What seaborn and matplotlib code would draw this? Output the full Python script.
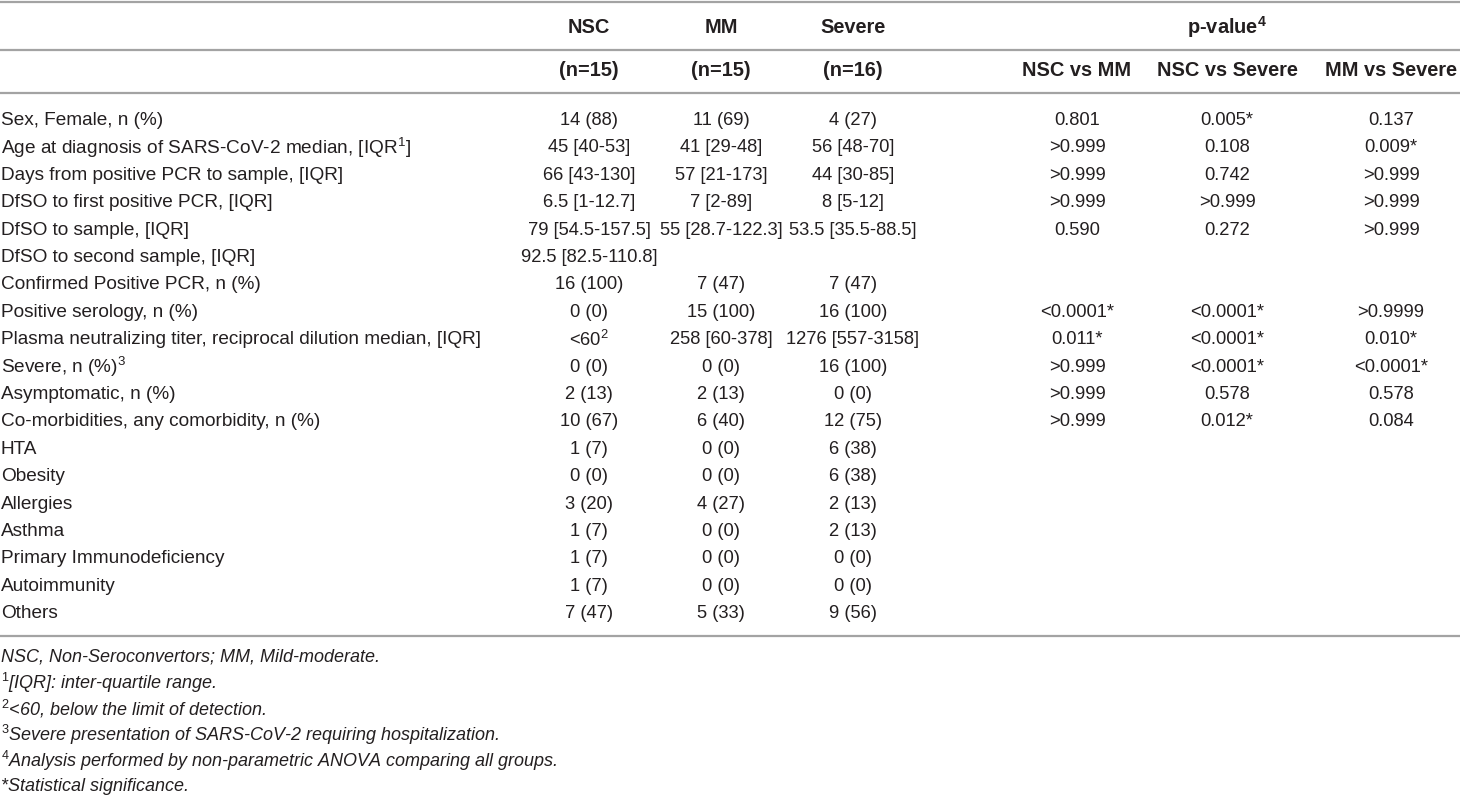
import matplotlib
matplotlib.use("Agg")
import matplotlib.pyplot as plt
import seaborn as sns

sns.set_theme(style="white")
FAM = ["Liberation Sans", "DejaVu Sans"]
plt.rcParams["font.family"] = FAM
plt.rcParams["mathtext.fontset"] = "custom"
plt.rcParams["mathtext.rm"] = "Liberation Sans"
plt.rcParams["mathtext.it"] = "Liberation Sans:italic"
plt.rcParams["mathtext.bf"] = "Liberation Sans:bold"
plt.rcParams["mathtext.default"] = "rm"

# ---------------- data ----------------
group_headers = ["NSC", "MM", "Severe"]
group_n = ["(n=15)", "(n=15)", "(n=16)"]
pvalue_header = "p-value$^{\\mathbf{4}}$"
pvalue_cols = ["NSC vs MM", "NSC vs Severe", "MM vs Severe"]

row_labels = [
    "Sex, Female, n (%)",
    "Age at diagnosis of SARS-CoV-2 median, [IQR$^1$]",
    "Days from positive PCR to sample, [IQR]",
    "DfSO to first positive PCR, [IQR]",
    "DfSO to sample, [IQR]",
    "DfSO to second sample, [IQR]",
    "Confirmed Positive PCR, n (%)",
    "Positive serology, n (%)",
    "Plasma neutralizing titer, reciprocal dilution median, [IQR]",
    "Severe, n (%)$^3$",
    "Asymptomatic, n (%)",
    "Co-morbidities, any comorbidity, n (%)",
    "HTA",
    "Obesity",
    "Allergies",
    "Asthma",
    "Primary Immunodeficiency",
    "Autoimmunity",
    "Others",
]

nsc_values = ["14 (88)", "45 [40-53]", "66 [43-130]", "6.5 [1-12.7]", "79 [54.5-157.5]",
              "92.5 [82.5-110.8]", "16 (100)", "0 (0)", "<60$^2$", "0 (0)", "2 (13)",
              "10 (67)", "1 (7)", "0 (0)", "3 (20)", "1 (7)", "1 (7)", "1 (7)", "7 (47)"]
mm_values = ["11 (69)", "41 [29-48]", "57 [21-173]", "7 [2-89]", "55 [28.7-122.3]",
             "", "7 (47)", "15 (100)", "258 [60-378]", "0 (0)", "2 (13)",
             "6 (40)", "0 (0)", "0 (0)", "4 (27)", "0 (0)", "0 (0)", "0 (0)", "5 (33)"]
severe_values = ["4 (27)", "56 [48-70]", "44 [30-85]", "8 [5-12]", "53.5 [35.5-88.5]",
                 "", "7 (47)", "16 (100)", "1276 [557-3158]", "16 (100)", "0 (0)",
                 "12 (75)", "6 (38)", "6 (38)", "2 (13)", "2 (13)", "0 (0)", "0 (0)", "9 (56)"]
p_nsc_mm = ["0.801", ">0.999", ">0.999", ">0.999", "0.590", "", "", "<0.0001*", "0.011*",
            ">0.999", ">0.999", ">0.999", "", "", "", "", "", "", ""]
p_nsc_severe = ["0.005*", "0.108", "0.742", ">0.999", "0.272", "", "", "<0.0001*", "<0.0001*",
                "<0.0001*", "0.578", "0.012*", "", "", "", "", "", "", ""]
p_mm_severe = ["0.137", "0.009*", ">0.999", ">0.999", ">0.999", "", "", ">0.9999", "0.010*",
               "<0.0001*", "0.578", "0.084", "", "", "", "", "", "", ""]

footnotes = [
    "NSC, Non-Seroconvertors; MM, Mild-moderate.",
    "$^{\\mathit{1}}$[IQR]: inter-quartile range.",
    "$^{\\mathit{2}}$<60, below the limit of detection.",
    "$^{\\mathit{3}}$Severe presentation of SARS-CoV-2 requiring hospitalization.",
    "$^{\\mathit{4}}$Analysis performed by non-parametric ANOVA comparing all groups.",
    "*Statistical significance.",
]

# ---------------- layout ----------------
W, H = 1460, 797
fig = plt.figure(figsize=(W / 100, H / 100), dpi=100)
ax = fig.add_axes([0, 0, 1, 1])
ax.set_xlim(0, W)
ax.set_ylim(H, 0)
ax.axis("off")

TXT = "#231f20"
LINE = "#a3a3a3"
FS = 13.7    # row labels
FSV = 13.2   # cell values
FSB = 14.4   # bold headers
FSF = 13.0   # footnotes

col_x = [589, 721, 853, 1077, 1227, 1391]
row_y0, row_dy = 120.5, 27.4

for y in [1.5, 50, 92.5, 636]:
    ax.plot([0, W], [y, y], color=LINE, lw=1.6, solid_capstyle="butt")

for x, h in zip(col_x[:3], group_headers):
    ax.text(x, 27, h, ha="center", va="center", fontsize=FSB, fontweight="bold", color=TXT)
ax.text(col_x[4], 27, pvalue_header, ha="center", va="center", fontsize=FSB,
        fontweight="bold", color=TXT)
for x, h in zip(col_x[:3], group_n):
    ax.text(x, 70, h, ha="center", va="center", fontsize=FSB, fontweight="bold", color=TXT)
for x, h in zip(col_x[3:], pvalue_cols):
    ax.text(x, 70, h, ha="center", va="center", fontsize=FSB, fontweight="bold", color=TXT)

columns = [nsc_values, mm_values, severe_values, p_nsc_mm, p_nsc_severe, p_mm_severe]
for i, lab in enumerate(row_labels):
    y = row_y0 + i * row_dy
    ax.text(1, y, lab, ha="left", va="center", fontsize=FS, color=TXT)
    for x, col in zip(col_x, columns):
        if col[i]:
            ax.text(x, y, col[i], ha="center", va="center", fontsize=FSV, color=TXT)

for j, fn in enumerate(footnotes):
    ax.text(1, 657.5 + j * 25.8, fn, ha="left", va="center", fontsize=FSF,
            style="italic", color=TXT)

fig.savefig("out.png", dpi=100, facecolor="white")
